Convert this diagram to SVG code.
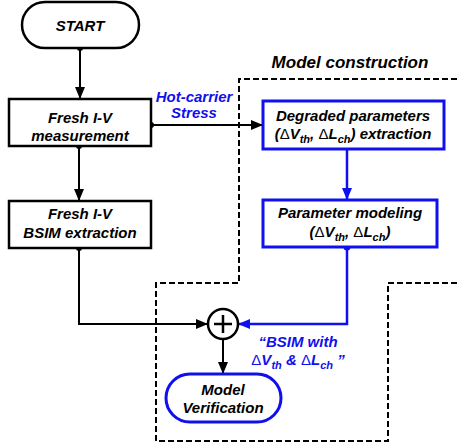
<svg xmlns="http://www.w3.org/2000/svg" width="457" height="447" viewBox="0 0 457 447">
<defs>
<style>
.t{font-family:"Liberation Sans",Arial,sans-serif;font-weight:bold;font-style:italic;font-size:15px;text-anchor:middle;fill:#000}
.b{fill:#1010ee}
.d{font-weight:normal;font-style:normal}
.s{font-size:11px}
.bk{fill:#fff;stroke:#000;stroke-width:2.5}
.bl{fill:#fff;stroke:#1010ee;stroke-width:3}
.ln{fill:none;stroke:#000;stroke-width:2}
.lb{fill:none;stroke:#1010ee;stroke-width:2.5}
</style>
<marker id="ak" markerWidth="12" markerHeight="10" refX="11" refY="5" orient="auto" markerUnits="userSpaceOnUse"><path d="M0,0 L12,5 L0,10 z" fill="#000"/></marker>
<marker id="ab" markerWidth="12" markerHeight="10" refX="11" refY="5" orient="auto" markerUnits="userSpaceOnUse"><path d="M0,0 L12,5 L0,10 z" fill="#1010ee"/></marker>
</defs>
<rect width="457" height="447" fill="#fff"/>
<g id="region">
<path d="M457 79 H239 V283 H156 V441 H388 V283 H457" fill="none" stroke="#000" stroke-width="2" stroke-dasharray="6,3"/>
<text class="t" x="350" y="68" style="font-size:17px">Model construction</text>
</g>
<g id="connectors">
<line class="ln" x1="80" y1="48" x2="80" y2="98" marker-end="url(#ak)"/>
<circle cx="80" cy="48" r="3"/>
<line class="ln" x1="79" y1="146" x2="79" y2="200" marker-end="url(#ak)"/>
<circle cx="79" cy="146" r="3"/>
<line class="ln" x1="151" y1="125" x2="262" y2="125" marker-end="url(#ak)"/>
<circle cx="151" cy="125" r="3"/>
<text class="t b" x="194" y="102">Hot-carrier</text>
<text class="t b" x="194" y="118">Stress</text>
<path class="ln" d="M79 248 V324 H207" marker-end="url(#ak)"/>
<circle cx="79" cy="248" r="3"/>
<line class="lb" x1="347" y1="149" x2="347" y2="199" marker-end="url(#ab)"/>
<path class="lb" d="M347 247 V324 H239" marker-end="url(#ab)"/>
<circle cx="347" cy="247" r="3.5" fill="#1010ee"/>
<text class="t b" x="298" y="347">“BSIM with</text>
<text class="t b" x="298" y="365"><tspan class="d">Δ</tspan>V<tspan class="s" dy="4">th</tspan><tspan dy="-4"> &amp; </tspan><tspan class="d">Δ</tspan>L<tspan class="s" dy="4">ch</tspan><tspan dy="-4"> ”</tspan></text>
<line class="ln" x1="223" y1="339" x2="223" y2="373" marker-end="url(#ak)"/>
</g>
<g id="start">
<rect class="bk" x="22" y="2" width="117" height="46" rx="23"/>
<text class="t" x="80" y="31">START</text>
</g>
<g id="fresh-meas">
<rect class="bk" x="9" y="99" width="142" height="47"/>
<text class="t" x="80" y="123">Fresh I-V</text>
<text class="t" x="80" y="141">measurement</text>
</g>
<g id="fresh-bsim">
<rect class="bk" x="9" y="201" width="142" height="47"/>
<text class="t" x="80" y="219">Fresh I-V</text>
<text class="t" x="80" y="238">BSIM extraction</text>
</g>
<g id="degraded">
<rect class="bl" x="263" y="101" width="181" height="48"/>
<text class="t" x="353" y="121">Degraded parameters</text>
<text class="t" x="353" y="139">(<tspan class="d">Δ</tspan>V<tspan class="s" dy="4">th</tspan><tspan dy="-4">, </tspan><tspan class="d">Δ</tspan>L<tspan class="s" dy="4">ch</tspan><tspan dy="-4">) extraction</tspan></text>
</g>
<g id="param">
<rect class="bl" x="263" y="200" width="174" height="47"/>
<text class="t" x="350" y="218">Parameter modeling</text>
<text class="t" x="350" y="237">(<tspan class="d">Δ</tspan>V<tspan class="s" dy="4">th</tspan><tspan dy="-4">, </tspan><tspan class="d">Δ</tspan>L<tspan class="s" dy="4">ch</tspan><tspan dy="-4">)</tspan></text>
</g>
<g id="sum">
<circle cx="223" cy="324" r="15" fill="#fff" stroke="#000" stroke-width="2.5"/>
<path d="M214 324 H232 M223 315 V333" stroke="#000" stroke-width="2.5"/>
</g>
<g id="verify">
<rect class="bl" x="166" y="374" width="115" height="48" rx="24"/>
<text class="t" x="223" y="395">Model</text>
<text class="t" x="223" y="413">Verification</text>
</g>
</svg>
